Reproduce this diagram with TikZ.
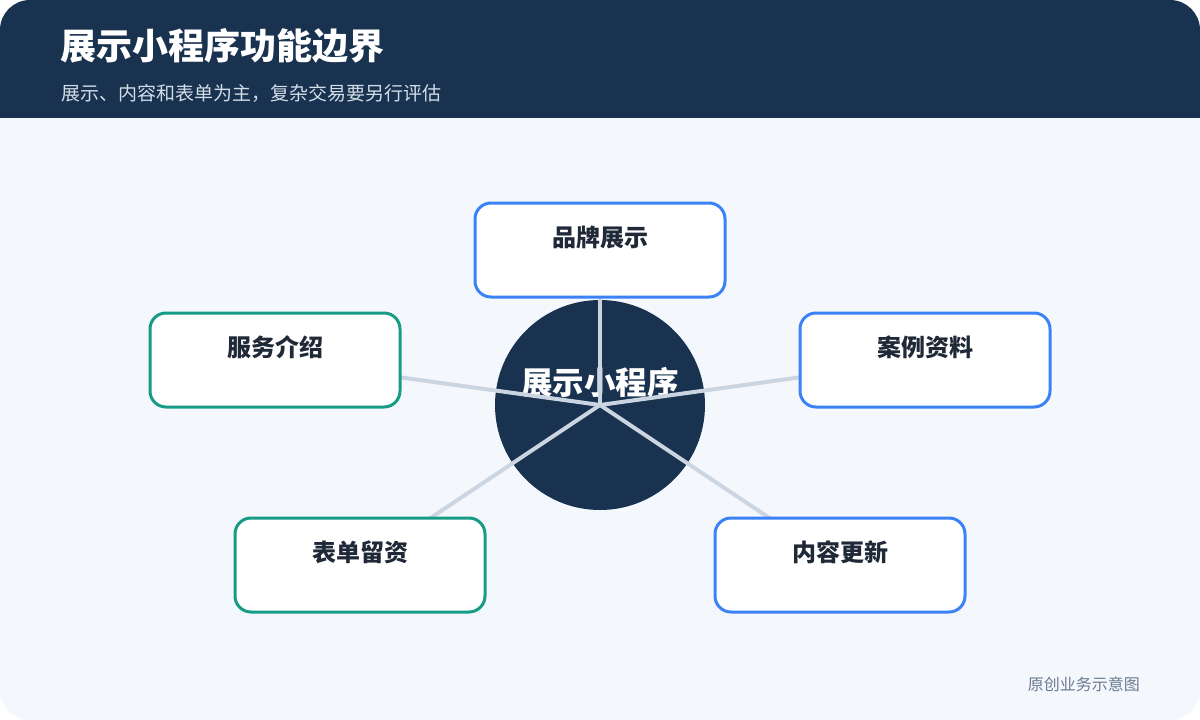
\documentclass[tikz,border=0pt]{standalone}
\usepackage{fontspec}
\setmainfont{Noto Sans CJK SC}
\definecolor{navy}{HTML}{18324F}
\definecolor{cardbg}{HTML}{F4F8FD}
\definecolor{bblue}{HTML}{3B82F6}
\definecolor{bgreen}{HTML}{169C86}
\definecolor{spoke}{HTML}{CBD5E1}
\definecolor{dark}{HTML}{1F2937}
\definecolor{subt}{HTML}{D3DDE8}
\definecolor{foot}{HTML}{6B7A90}
\pgfdeclarelayer{back}
\pgfdeclarelayer{low}
\pgfdeclarelayer{mid}
\pgfsetlayers{back,low,mid,main}
\tikzset{
  card/.style={draw, line width=3pt, fill=white, rounded corners=16pt,
    minimum width=250pt, minimum height=94pt, inner sep=0pt},
  bluecard/.style={card, draw=bblue},
  greencard/.style={card, draw=bgreen},
  cardtext/.style={anchor=base, inner sep=0pt, text=dark, font=\fontsize{24}{28}\selectfont\bfseries},
  spokeline/.style={draw=spoke, line width=4pt},
}
\begin{document}
\begin{tikzpicture}[x=1pt,y=-1pt]
\useasboundingbox (0,0) rectangle (1200,720);
\begin{pgfonlayer}{back}
\begin{scope}
  \clip[rounded corners=30pt] (0,0) rectangle (1200,720);
  \fill[cardbg] (0,0) rectangle (1200,720);
  \fill[navy] (0,0) rectangle (1200,118);
\end{scope}
\end{pgfonlayer}
\node[anchor=base west, inner sep=0pt, text=white, font=\fontsize{36}{42}\selectfont\bfseries] (title) at (60,59) {展示小程序功能边界};
\node[anchor=base west, inner sep=0pt, text=subt, font=\fontsize{19}{23}\selectfont] (subtitle) at (61,100.5) {展示、内容和表单为主，复杂交易要另行评估};
\node[anchor=base east, inner sep=0pt, text=foot, font=\fontsize{16}{19}\selectfont] (footer) at (1140,690.5) {原创业务示意图};

\begin{pgfonlayer}{low}
\node[circle, fill=navy, minimum size=210pt, inner sep=0pt] (hub) at (600,405) {};
\node[anchor=base, inner sep=0pt, text=white, font=\fontsize{31.5}{36}\selectfont\bfseries] (hubtext) at (600,394.5) {展示小程序};
\end{pgfonlayer}

\node[bluecard] (b1) at (600,250) {};
\node[greencard] (b2) at (275,360) {};
\node[bluecard] (b3) at (925,360) {};
\node[greencard] (b4) at (360,565) {};
\node[bluecard] (b5) at (840,565) {};

\node[cardtext] (t1) at ([yshift=3.3pt]b1.center) {品牌展示};
\node[cardtext] (t2) at ([yshift=3.3pt]b2.center) {服务介绍};
\node[cardtext] (t3) at ([yshift=3.3pt]b3.center) {案例资料};
\node[cardtext] (t4) at ([yshift=3.3pt]b4.center) {表单留资};
\node[cardtext] (t5) at ([yshift=3.3pt]b5.center) {内容更新};

\begin{pgfonlayer}{mid}
\foreach \b in {b1,b2,b3,b4,b5}
  \draw[spokeline] (hub.center) -- (\b.center);
\end{pgfonlayer}
\end{tikzpicture}
\end{document}
